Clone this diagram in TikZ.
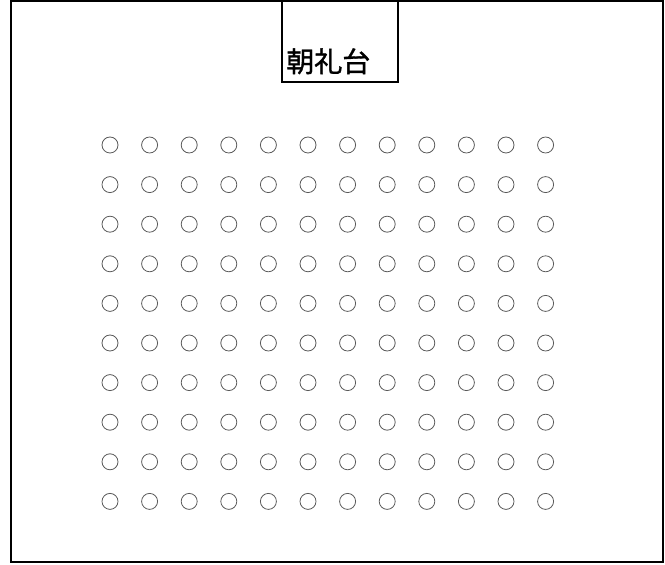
\documentclass[tikz,border=0pt]{standalone}
\usepackage{fontspec}
\newfontfamily\jpfont[FakeBold=1.2]{Noto Sans CJK JP}
\usepackage{tikz}
\usetikzlibrary{
  positioning,
  calc
}

\begin{document}
\begin{tikzpicture}[
    x=1pt, y=1pt,
    hall/.style={
        draw,
        rectangle,
        line width=2.6pt,
        minimum width=652pt,
        minimum height=561pt,
        inner sep=0pt
    },
    stagebox/.style={
        draw,
        rectangle,
        line width=1.8pt,
        minimum width=116pt,
        minimum height=81pt,
        inner sep=0pt
    },
    stagetext/.style={
        font=\jpfont\fontsize{28pt}{32pt}\selectfont,
        inner sep=0pt,
        anchor=base west
    },
    seat/.style={
        draw=black!65,
        circle,
        line width=0.8pt,
        minimum size=16pt,
        inner sep=0pt
    }
]
\useasboundingbox (0,0) rectangle (665,565);

% ----------------------------------------------------------
% FRAME AND STAGE
% ----------------------------------------------------------

\node[hall] (hall) at (337,283.5) {};
\node[stagebox] (stage) at (340,523.5) {};
\node[stagetext] (stagename) at ($(stage.south west)+(5,11)$) {朝礼台};

% ----------------------------------------------------------
% SEATS
% ----------------------------------------------------------

\foreach \r in {0,...,9}{
  \foreach \c in {0,...,11}{
    \node[seat] (seat-\r-\c) at ({110+39.6*\c},{420-39.6*\r}) {};
  }
}

\end{tikzpicture}
\end{document}
